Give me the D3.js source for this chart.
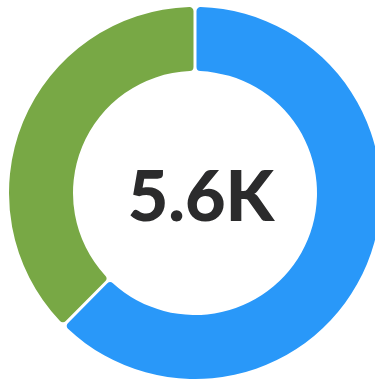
<!DOCTYPE html>
<html><head><meta charset="utf-8">
<script src="https://cdn.jsdelivr.net/npm/d3@7"></script>
<style>html,body{margin:0;padding:0;background:#fff;overflow:hidden}</style>
</head><body>
<svg id="chart" width="375" height="379"></svg>
<script>
const categories = ["A", "B"];
const values = [3500, 2100];
const colors = ["#2998F9", "#78A845"];
const totalLabel = "5.6K";

const svg = d3.select("#chart");
const cx = 195, cy = 193, outerR = 186, innerR = 122;
const g = svg.append("g").attr("transform", `translate(${cx},${cy})`);
const pie = d3.pie().sort(null).value(d => d.value).padAngle(0.0135);
const data = categories.map((c, i) => ({cat: c, value: values[i]}));
const arc = d3.arc().innerRadius(innerR).outerRadius(outerR).cornerRadius(4);
const color = d3.scaleOrdinal().domain(categories).range(colors);
g.selectAll("path").data(pie(data)).join("path")
  .attr("d", arc).attr("fill", d => color(d.data.cat));
g.append("text").attr("text-anchor", "middle")
  .attr("x", 6).attr("y", 28)
  .style("font-family", "Lato, Inter, sans-serif")
  .style("font-weight", 900).style("font-size", "70px").style("fill", "#2b2b2c")
  .text(totalLabel);
</script>
</body></html>
